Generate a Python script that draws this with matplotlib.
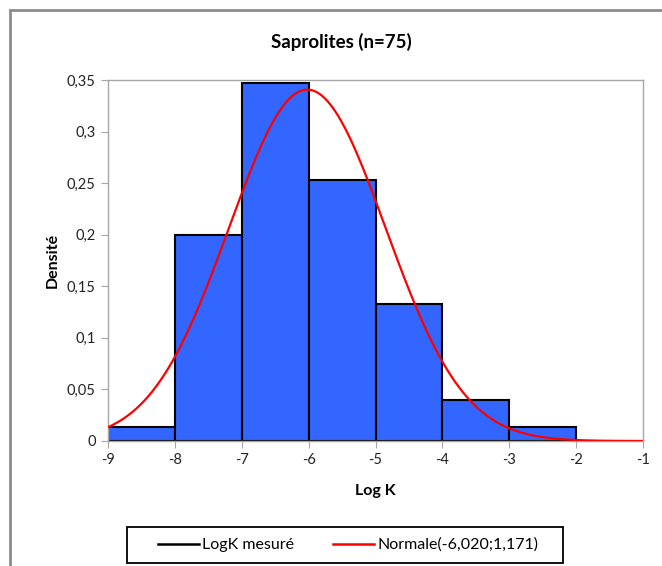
import numpy as np
import matplotlib
matplotlib.use("Agg")
import matplotlib.pyplot as plt
from matplotlib.patches import Rectangle
from matplotlib.lines import Line2D
from matplotlib.ticker import FuncFormatter

plt.rcParams['font.family'] = ['Lato', 'DejaVu Sans']

# Data
bin_edges = [-9, -8, -7, -6, -5, -4, -3, -2]
densities = [0.0133, 0.2, 0.3467, 0.2533, 0.1333, 0.04, 0.0133]
mu = -6.020
sigma = 1.171
x_ticks = [-9, -8, -7, -6, -5, -4, -3, -2, -1]
y_ticks = [0, 0.05, 0.1, 0.15, 0.2, 0.25, 0.3, 0.35]

W, H = 662, 566
fig = plt.figure(figsize=(W / 100, H / 100), dpi=100)
fig.patch.set_facecolor('white')

# outer chart border (cut off at right/bottom)
fig.patches.append(Rectangle((10 / W, -0.05), 1.2, 1 - 10 / H + 0.05,
                             transform=fig.transFigure, fill=False,
                             edgecolor='#8c8c8c', linewidth=2))

ax = fig.add_axes([108 / W, 1 - 441 / H, (643 - 108) / W, (441 - 80) / H])

lefts = np.array(bin_edges[:-1])
widths = np.diff(bin_edges)
ax.bar(lefts, densities, width=widths, align='edge', color='#3366FF',
       edgecolor='black', linewidth=1.5, zorder=2)

xs = np.linspace(-9, -1, 400)
ys = np.exp(-0.5 * ((xs - mu) / sigma) ** 2) / (sigma * np.sqrt(2 * np.pi))
ax.plot(xs, ys, color='#FF0000', linewidth=1.6, zorder=3)

ax.set_xlim(-9, -1)
ax.set_ylim(0, 0.35)
ax.set_xticks(x_ticks)
ax.set_yticks(y_ticks)
ax.xaxis.set_major_formatter(FuncFormatter(lambda v, p: f"{v:g}"))
ax.yaxis.set_major_formatter(FuncFormatter(lambda v, p: f"{v:g}".replace('.', ',')))
for s in ax.spines.values():
    s.set_color('#a6a6a6')
    s.set_linewidth(1)
ax.tick_params(direction='out', length=5, color='#a6a6a6', labelsize=10.5,
               labelcolor='#222222', pad=4)

ax.set_xlabel('Log K', fontsize=11.5, fontweight='bold', labelpad=12)
ax.set_ylabel('Densité', fontsize=11.5, fontweight='bold', labelpad=5)
fig.text(341 / W, 1 - 42 / H, 'Saprolites (n=75)', fontsize=13.5,
         fontweight='bold', ha='center', va='center')

# legend box
fig.patches.append(Rectangle((127 / W, 1 - 563 / H), (563 - 127) / W, 36 / H,
                             transform=fig.transFigure, fill=False,
                             edgecolor='black', linewidth=1.3))
handles = [Line2D([], [], color='black', linewidth=1.8),
           Line2D([], [], color='#FF0000', linewidth=1.8)]
leg = fig.legend(handles, ['LogK mesuré', 'Normale(-6,020;1,171)'],
                 loc='center', bbox_to_anchor=(348 / W, 1 - 545 / H),
                 ncol=2, frameon=False, fontsize=11.5,
                 handlelength=2.6, handletextpad=0.2, columnspacing=2.4,
                 borderpad=0.2)

fig.savefig('out.png', dpi=100)
